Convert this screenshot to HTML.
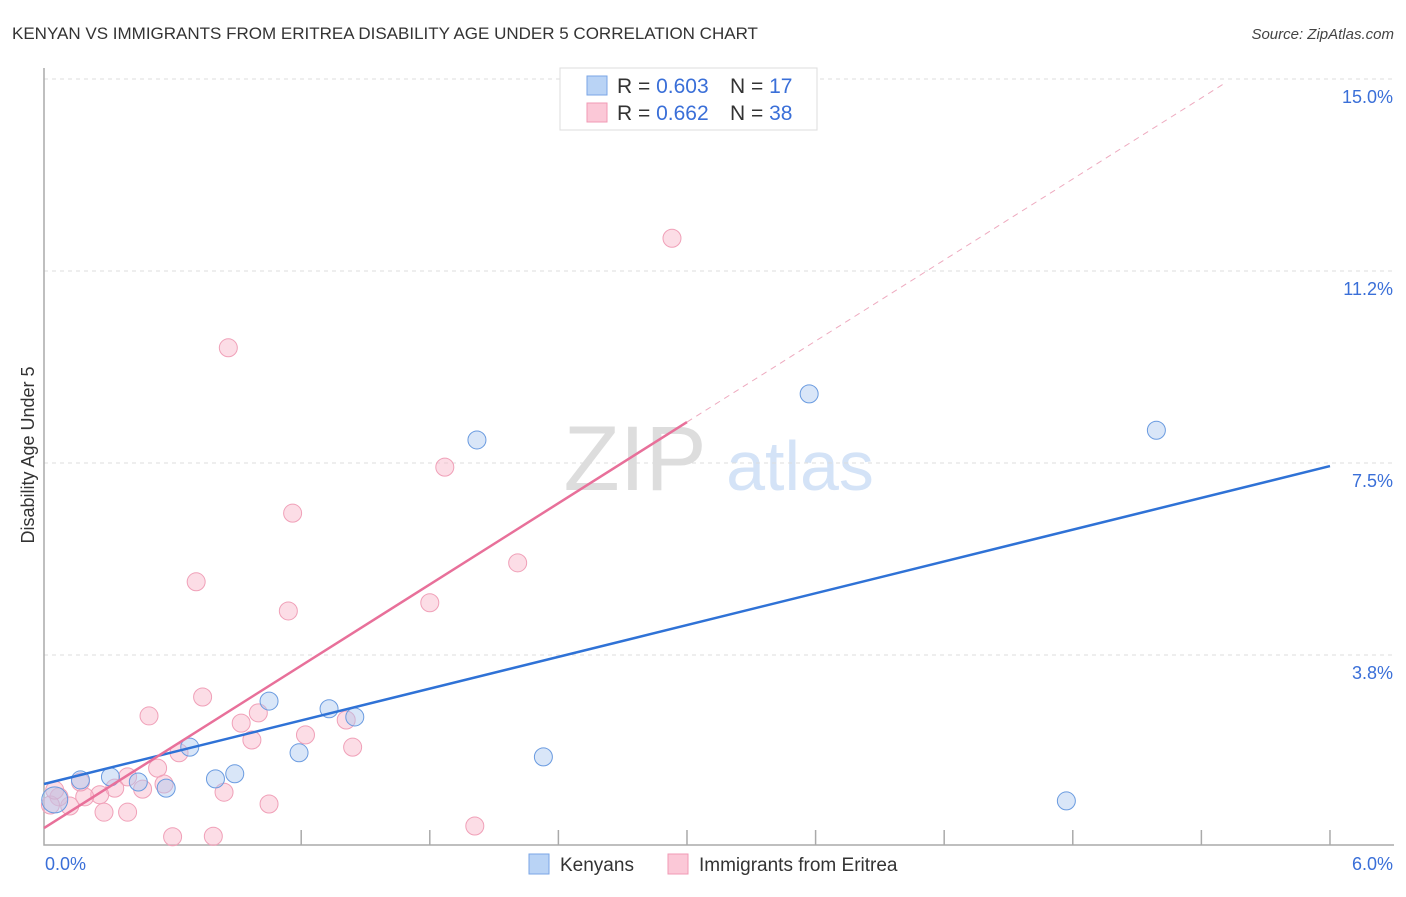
<!DOCTYPE html>
<html><head><meta charset="utf-8"><style>
body{margin:0;background:#fff;font-family:"Liberation Sans",sans-serif}
svg text{font-family:"Liberation Sans",sans-serif}
</style></head><body>
<svg id="chart" width="1406" height="892" xmlns="http://www.w3.org/2000/svg">
<text x="12" y="39" font-size="17" fill="#333">KENYAN VS IMMIGRANTS FROM ERITREA DISABILITY AGE UNDER 5 CORRELATION CHART</text>
<text x="1394" y="39" font-size="15" fill="#444" text-anchor="end" font-style="italic">Source: ZipAtlas.com</text>
<text transform="translate(34,455) rotate(-90)" font-size="18" fill="#333" text-anchor="middle">Disability Age Under 5</text>
<g><text x="635" y="490" font-size="92" fill="#ddd" text-anchor="middle" font-family="Liberation Serif">ZIP</text><text x="800" y="490" font-size="70" fill="#d4e3f7" text-anchor="middle">atlas</text></g>
<g id="grid"></g><g id="axes"></g><g id="marks"></g><g id="lines"></g>
<g>
<rect x="560" y="68" width="257" height="62" fill="#fff" stroke="#ddd"/>
<rect x="587" y="76" width="20" height="19" fill="#b9d3f5" stroke="#7aa6e6"/>
<rect x="587" y="103" width="20" height="19" fill="#fbc8d7" stroke="#f09ab4"/>
<text x="617" y="93" font-size="21" fill="#333">R = <tspan fill="#3a6fd8">0.603</tspan></text>
<text x="730" y="93" font-size="21" fill="#333">N =  <tspan fill="#3a6fd8">17</tspan></text>
<text x="617" y="120" font-size="21" fill="#333">R =  <tspan fill="#3a6fd8">0.662</tspan></text>
<text x="730" y="120" font-size="21" fill="#333">N = <tspan fill="#3a6fd8">38</tspan></text>
</g>
<g>
<rect x="529" y="854" width="20" height="20" fill="#b9d3f5" stroke="#7aa6e6"/>
<text x="560" y="871" font-size="19" fill="#333">Kenyans</text>
<rect x="668" y="854" width="20" height="20" fill="#fbc8d7" stroke="#f09ab4"/>
<text x="699" y="871" font-size="19" fill="#333">Immigrants from Eritrea</text>
</g>
</svg>
<script>
const yTicks=[3.75,7.5,11.25,15];
const yTickLabels=["3.8%","7.5%","11.2%","15.0%"];
const xTicks=[1.2,1.8,2.4,3.0,3.6,4.2,4.8,5.4,6.0];
const kenX=[5.19,3.57,2.02,1.05,1.33,1.45,1.19,2.33,4.77,0.68,0.89,0.80,0.44,0.31,0.57,0.17,0.05];
const kenY=[8.14,8.85,7.95,2.85,2.70,2.54,1.84,1.76,0.90,1.95,1.43,1.33,1.27,1.37,1.15,1.31,0.92];
const eriX=[2.93,0.86,1.87,1.16,2.21,0.71,1.14,1.80,0.74,0.49,1.00,0.92,1.22,0.97,1.41,1.44,0.63,0.53,0.56,0.46,0.39,0.33,0.26,0.19,0.12,0.07,0.28,0.39,0.84,1.05,2.01,0.60,0.79,0.03,0.17,0.05];
const eriY=[11.89,9.75,7.42,6.52,5.55,5.18,4.61,4.77,2.93,2.56,2.62,2.42,2.19,2.09,2.48,1.95,1.84,1.54,1.23,1.13,1.37,1.15,1.02,0.98,0.80,0.98,0.68,0.68,1.07,0.84,0.41,0.20,0.21,0.82,1.27,1.11];
const kenLine=[0,1.23,6,7.44];
const eriLine=[0,0.37,3.0,8.30,5.51,14.92];
const X=v=>44+v*214.33, Y=v=>847-v*51.2;
const NS="http://www.w3.org/2000/svg";
function mk(t,a,p){const e=document.createElementNS(NS,t);for(const k in a)e.setAttribute(k,a[k]);document.getElementById(p).appendChild(e);return e;}
yTicks.forEach((t,i)=>{
 const g=mk('line',{x1:44,x2:1394,y1:Y(t),y2:Y(t),stroke:'#ddd','stroke-dasharray':'4,4'},'grid');
 
 
 const l=mk('text',{x:1393,y:Y(t)+24,'font-size':18,fill:'#3a6fd8','text-anchor':'end'},'axes');
 l.textContent=yTickLabels[i];
 
 
});
const ax=mk('path',{d:'M44 68 V845 H1394',fill:'none',stroke:'#aaa','stroke-width':1.5},'axes');


xTicks.forEach(t=>{const e=mk('line',{x1:X(t),x2:X(t),y1:830,y2:845,stroke:'#aaa','stroke-width':1.5},'axes');
 
 });
const x0=mk('text',{x:45,y:870,'font-size':18,fill:'#3a6fd8'},'axes');x0.textContent='0.0%';


const x1=mk('text',{x:1393,y:870,'font-size':18,fill:'#3a6fd8','text-anchor':'end'},'axes');x1.textContent='6.0%';


eriX.forEach((v,i)=>{const c=mk('circle',{cx:X(v),cy:Y(eriY[i]),r:9,fill:'rgba(248,180,200,0.45)',stroke:'#f0a0b8','stroke-width':1},'marks');
 
 });
kenX.forEach((v,i)=>{const c=mk('circle',{cx:X(v),cy:Y(kenY[i]),r:i==16?13:9,fill:'rgba(170,200,240,0.45)',stroke:'#6a9be0','stroke-width':1},'marks');
 
 });
const kl=mk('line',{x1:X(kenLine[0]),y1:Y(kenLine[1]),x2:X(kenLine[2]),y2:Y(kenLine[3]),stroke:'#2f72d6','stroke-width':2.5},'lines');


const el=mk('line',{x1:X(eriLine[0]),y1:Y(eriLine[1]),x2:X(eriLine[2]),y2:Y(eriLine[3]),stroke:'#e8709a','stroke-width':2.5},'lines');


const ed=mk('line',{x1:X(eriLine[2]),y1:Y(eriLine[3]),x2:X(eriLine[4]),y2:Y(eriLine[5]),stroke:'#eeaabf','stroke-width':1,'stroke-dasharray':'6,5'},'lines');


</script>
</body></html>
